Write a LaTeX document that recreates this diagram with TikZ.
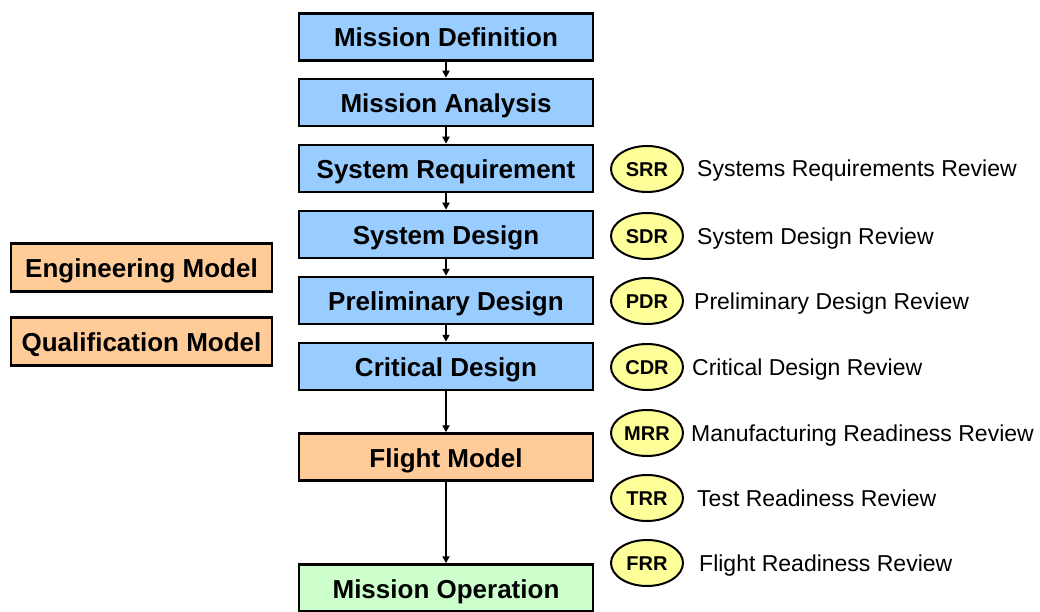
\documentclass[tikz,border=0pt]{standalone}
\usepackage{fontspec}
\setmainfont{Liberation Sans}
\usetikzlibrary{shapes.geometric,arrows.meta}
\definecolor{phaseblue}{HTML}{99CCFF}
\definecolor{modelorange}{HTML}{FFCC99}
\definecolor{opsgreen}{HTML}{CCFFCC}
\definecolor{revyellow}{HTML}{FFFF99}
\begin{document}
\begin{tikzpicture}[x=1pt,y=-1pt,
	phase/.style={draw,line width=2.5pt,minimum width=294pt,minimum height=47pt,inner sep=0pt,text height=20pt,text depth=0pt,font=\fontsize{26}{30}\selectfont\bfseries},
	model/.style={draw,line width=2.5pt,fill=modelorange,minimum width=261pt,minimum height=48pt,inner sep=0pt,text height=20pt,text depth=0pt,font=\fontsize{26}{30}\selectfont\bfseries},
	review/.style={ellipse,draw,line width=2pt,fill=revyellow,minimum width=72pt,minimum height=46pt,inner sep=0pt,text height=15pt,text depth=0pt,font=\fontsize{20}{24}\selectfont\bfseries},
	revtext/.style={anchor=west,inner sep=0pt,text height=16pt,text depth=0pt,font=\fontsize{23}{27}\selectfont},
	flow/.style={-{Triangle[length=7pt,width=7pt]},line width=2pt}]
	\useasboundingbox (0,0) rectangle (1040,612);
	
	% Life cycle phases (middle column)
	\node[phase,fill=phaseblue] (def) at (446,37) {Mission Definition};
	\node[phase,fill=phaseblue] (ana) at (446,102.5) {Mission Analysis};
	\node[phase,fill=phaseblue] (req) at (446,168.5) {System Requirement};
	\node[phase,fill=phaseblue] (sysd) at (446,234.5) {System Design};
	\node[phase,fill=phaseblue] (prel) at (446,300.5) {Preliminary Design};
	\node[phase,fill=phaseblue] (crit) at (446,366.5) {Critical Design};
	\node[phase,fill=modelorange] (fm) at (446,457) {Flight Model};
	\node[phase,fill=opsgreen] (ops) at (446,588) {Mission Operation};
	
	% Models built along the way (left column)
	\node[model] (em) at (141.5,267.5) {Engineering Model};
	\node[model] (qm) at (141.5,341.5) {Qualification Model};
	
	% Flow between phases
	\draw[flow] (def) -- (ana);
	\draw[flow] (ana) -- (req);
	\draw[flow] (req) -- (sysd);
	\draw[flow] (sysd) -- (prel);
	\draw[flow] (prel) -- (crit);
	\draw[flow] (crit) -- (fm);
	\draw[flow] (fm) -- (ops);
	
	% Reviews (right column)
	\node[review] (srr) at (647,169) {SRR};
	\node[review] (sdr) at (647,236) {SDR};
	\node[review] (pdr) at (647,301) {PDR};
	\node[review] (cdr) at (647,367) {CDR};
	\node[review] (mrr) at (647,433) {MRR};
	\node[review] (trr) at (647,498) {TRR};
	\node[review] (frr) at (647,563) {FRR};
	
	\node[revtext] (srrtxt) at (697,169) {Systems Requirements Review};
	\node[revtext] (sdrtxt) at (697,236) {System Design Review};
	\node[revtext] (pdrtxt) at (694,301) {Preliminary Design Review};
	\node[revtext] (cdrtxt) at (692,367) {Critical Design Review};
	\node[revtext] (mrrtxt) at (691,433) {Manufacturing Readiness Review};
	\node[revtext] (trrtxt) at (697,498) {Test Readiness Review};
	\node[revtext] (frrtxt) at (699,563) {Flight Readiness Review};
\end{tikzpicture}
\end{document}
